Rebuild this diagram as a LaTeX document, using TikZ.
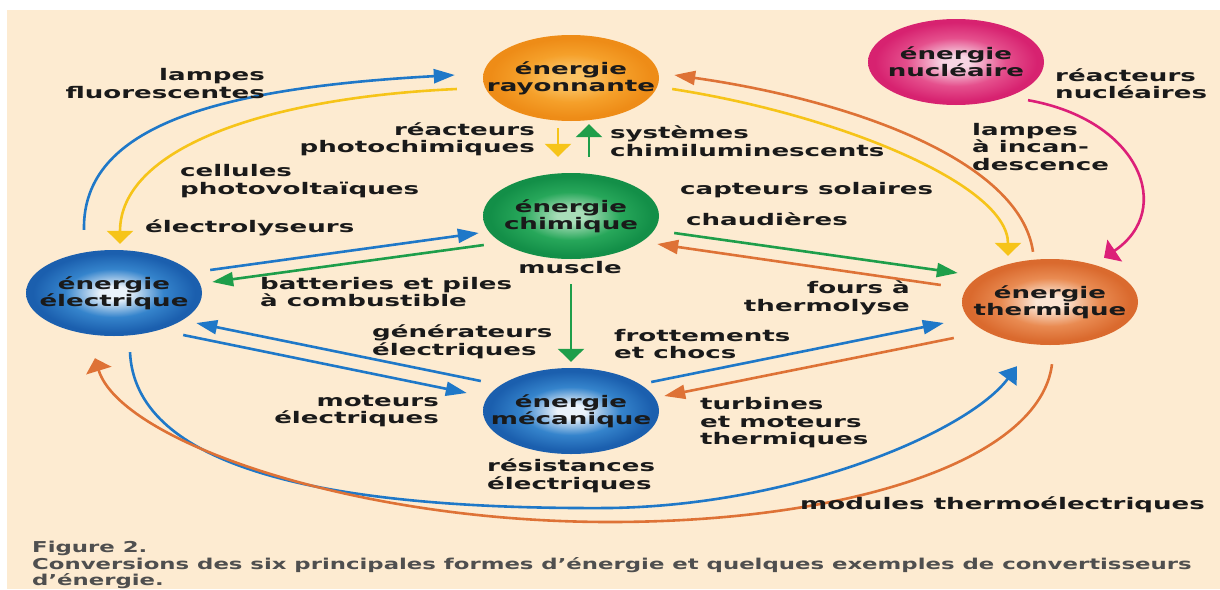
\documentclass[tikz,border=0pt]{standalone}
\usepackage{fontspec}
\usetikzlibrary{arrows.meta,shapes.geometric}
\newfontfamily\labfont[FakeStretch=1.63]{DejaVu Sans}
\newfontfamily\capfont[FakeStretch=1.52]{DejaVu Sans}
\definecolor{bg}{HTML}{FDEBD1}
\definecolor{cblue}{HTML}{1F78C8}
\definecolor{cyellow}{HTML}{F6C419}
\definecolor{cgreen}{HTML}{1E9E4A}
\definecolor{corange}{HTML}{DE7236}
\definecolor{cpink}{HTML}{DC1F78}
\definecolor{ink}{HTML}{1A1A1A}
\definecolor{capgray}{HTML}{4F4F4F}
% node shading colours
\definecolor{rayA}{HTML}{FAC263}\definecolor{rayB}{HTML}{F5A02A}\definecolor{rayC}{HTML}{EE8C17}
\definecolor{chiA}{HTML}{A8DDB8}\definecolor{chiB}{HTML}{27A75A}\definecolor{chiC}{HTML}{138F48}
\definecolor{bluA}{HTML}{EAF2FA}\definecolor{bluB}{HTML}{3584CC}\definecolor{bluC}{HTML}{1B5FAE}
\definecolor{theA}{HTML}{FBE5D4}\definecolor{theB}{HTML}{E98B52}\definecolor{theC}{HTML}{DA6A2E}
\definecolor{nucA}{HTML}{F7D5E3}\definecolor{nucB}{HTML}{E5508D}\definecolor{nucC}{HTML}{D72270}
\pgfdeclareradialshading{rayshade}{\pgfpoint{0bp}{0bp}}{color(0bp)=(rayA);color(5bp)=(rayA);color(14bp)=(rayB);color(23bp)=(rayC);color(25bp)=(rayC);color(50bp)=(rayC)}
\pgfdeclareradialshading{chishade}{\pgfpoint{0bp}{0bp}}{color(0bp)=(chiA);color(4bp)=(chiA);color(14bp)=(chiB);color(23bp)=(chiC);color(25bp)=(chiC);color(50bp)=(chiC)}
\pgfdeclareradialshading{blushade}{\pgfpoint{0bp}{0bp}}{color(0bp)=(bluA);color(4bp)=(bluA);color(14bp)=(bluB);color(23bp)=(bluC);color(25bp)=(bluC);color(50bp)=(bluC)}
\pgfdeclareradialshading{theshade}{\pgfpoint{0bp}{0bp}}{color(0bp)=(theA);color(4bp)=(theA);color(14bp)=(theB);color(23bp)=(theC);color(25bp)=(theC);color(50bp)=(theC)}
\pgfdeclareradialshading{nucshade}{\pgfpoint{0bp}{0bp}}{color(0bp)=(nucA);color(4bp)=(nucA);color(14bp)=(nucB);color(23bp)=(nucC);color(25bp)=(nucC);color(50bp)=(nucC)}
\tikzset{
  en/.style={ellipse, minimum width=176pt, minimum height=86pt, inner xsep=-40pt, inner ysep=-8pt, shade,
    font=\labfont\bfseries\fontsize{16}{17}\selectfont, text=ink, align=center},
  lab/.style={font=\labfont\bfseries\fontsize{16}{17.5}\selectfont, text=ink, inner sep=0pt},
  conn/.style={line width=2.6pt},
  hh/.style={-{Triangle[length=21pt,width=14pt]}},
  vh/.style={-{Triangle[length=13pt,width=26pt]}},
  dh/.style={-{Triangle[length=16pt,width=22pt]}}
}
\begin{document}
\begin{tikzpicture}[x=1pt,y=-1pt]
\useasboundingbox (0,0) rectangle (1220,589);
\fill[white] (0,0) rectangle (1220,589);
\fill[bg] (7,10) rectangle (1220,589);

% energy forms
\node[en, shading=rayshade] (ray) at (571,78) {énergie\\rayonnante};
\node[en, shading=chishade] (chi) at (571,216) {énergie\\chimique};
\node[en, shading=blushade] (ele) at (114,293) {énergie\\électrique};
\node[en, shading=blushade] (mec) at (571,411) {énergie\\mécanique};
\node[en, shading=theshade] (the) at (1050,302) {énergie\\thermique};
\node[en, shading=nucshade] (nuc) at (956,62) {énergie\\nucléaire};

% electric <-> radiant
\draw[conn, cblue, hh] ([xshift=-30pt,yshift=20pt]ele.north) .. controls (82,125) and (220,88) .. ([xshift=-28pt,yshift=3pt]ray.west);
\draw[conn, cyellow, vh] ([xshift=-26pt,yshift=-11pt]ray.west) .. controls (260,98) and (120,150) .. ([xshift=6pt,yshift=6pt]ele.north);
% radiant <-> chemical
\draw[conn, cyellow, vh] ([xshift=-13pt,yshift=-7pt]ray.south) -- ([xshift=-13pt,yshift=16pt]chi.north);
\draw[conn, cgreen, vh] ([xshift=18pt,yshift=16pt]chi.north) -- ([xshift=18pt,yshift=-3pt]ray.south);
% thermal <-> radiant
\draw[conn, corange, hh] ([xshift=-17pt,yshift=7pt]the.north) .. controls (1020,160) and (850,100) .. ([xshift=15pt,yshift=3pt]ray.east);
\draw[conn, cyellow, vh] ([xshift=13pt,yshift=-11pt]ray.east) .. controls (840,115) and (1008,185) .. ([xshift=-42pt,yshift=3pt]the.north);
% nuclear -> thermal
\draw[conn, cpink, vh] ([xshift=72pt,yshift=5pt]nuc.south) .. controls (1140,120) and (1175,210) .. ([xshift=54pt,yshift=1pt]the.north);
% electric <-> chemical
\draw[conn, cblue, hh] ([xshift=8pt,yshift=23pt]ele.east) -- ([xshift=-4pt,yshift=-17pt]chi.west);
\draw[conn, cgreen, hh] ([xshift=1pt,yshift=-29pt]chi.west) -- ([xshift=10pt,yshift=11pt]ele.east);
% chemical <-> thermal
\draw[conn, cgreen, hh] ([xshift=15pt,yshift=-17pt]chi.east) -- ([xshift=-4pt,yshift=29pt]the.west);
\draw[conn, corange, hh] ([xshift=-21pt,yshift=17pt]the.west) -- ([xshift=-2pt,yshift=-28pt]chi.east);
% chemical -> mechanical
\draw[conn, cgreen, vh] ([yshift=-25pt]chi.south) -- ([yshift=6pt]mec.north);
% electric <-> mechanical
\draw[conn, cblue, hh] ([xshift=-2pt,yshift=30pt]mec.west) -- ([xshift=-6pt,yshift=-30pt]ele.east);
\draw[conn, cblue, hh] ([xshift=-19pt,yshift=-42pt]ele.east) -- ([xshift=-16pt,yshift=18pt]mec.west);
% mechanical <-> thermal
\draw[conn, cblue, hh] ([xshift=-8pt,yshift=29pt]mec.east) -- ([xshift=-18pt,yshift=-21pt]the.west);
\draw[conn, corange, hh] ([xshift=-8pt,yshift=-36pt]the.west) -- ([xshift=5pt,yshift=15pt]mec.east);
% electric <-> thermal (big arcs)
\draw[conn, cblue, dh] ([xshift=16pt,yshift=-16pt]ele.south) .. controls (135,460) and (300,510) .. (610,508) .. controls (800,505) and (970,430) .. ([xshift=-33pt,yshift=-21pt]the.south);
\draw[conn, corange, vh] ([xshift=2pt,yshift=-19pt]the.south) .. controls (1040,460) and (850,522) .. (610,522) .. controls (350,522) and (120,440) .. ([xshift=-19pt,yshift=-22pt]ele.south);

% labels
\node[lab, anchor=east, align=right] (l1) at (265,83.5) {lampes\\fluorescentes};
\node[lab, anchor=west, align=left] (l2) at (180,181) {cellules\\photovoltaïques};
\node[lab, anchor=west] (l3) at (145,228) {électrolyseurs};
\node[lab, anchor=east, align=right] (l4) at (535,139.5) {réacteurs\\photochimiques};
\node[lab, anchor=west, align=left] (l5) at (610,141) {systèmes\\chimiluminescents};
\node[lab, anchor=west] (l6) at (680,190) {capteurs solaires};
\node[lab, anchor=west] (l7) at (686,219) {chaudières};
\node[lab] (l8) at (570,268) {muscle};
\node[lab, anchor=west, align=left] (l9) at (260,292) {batteries et piles\\à combustible};
\node[lab, anchor=east, align=right] (l10) at (910,298) {fours à\\thermolyse};
\node[lab, anchor=west, align=left] (l11) at (372,342) {générateurs\\électriques};
\node[lab, anchor=west, align=left] (l12) at (614,344) {frottements\\et chocs};
\node[lab, anchor=east, align=right] (l13) at (439,411) {moteurs\\électriques};
\node[lab, anchor=west, align=left] (l14) at (700,423) {turbines\\et moteurs\\thermiques};
\node[lab, anchor=west, align=left] (l15) at (487,476) {résistances\\électriques};
\node[lab, anchor=west, align=left] (l16) at (1055,83.5) {réacteurs\\nucléaires};
\node[lab, anchor=west, align=left] (l17) at (972,147) {lampes\\à incan-\\descence};
\node[lab, anchor=west] (l18) at (800,505) {modules thermoélectriques};

% caption
\node[anchor=west, align=left, inner sep=0pt, text=capgray, font=\capfont\bfseries\fontsize{15}{16.5}\selectfont] (cap) at (32,565) {Figure 2.\\Conversions des six principales formes d’énergie et quelques exemples de convertisseurs\\d’énergie.};
\end{tikzpicture}
\end{document}
